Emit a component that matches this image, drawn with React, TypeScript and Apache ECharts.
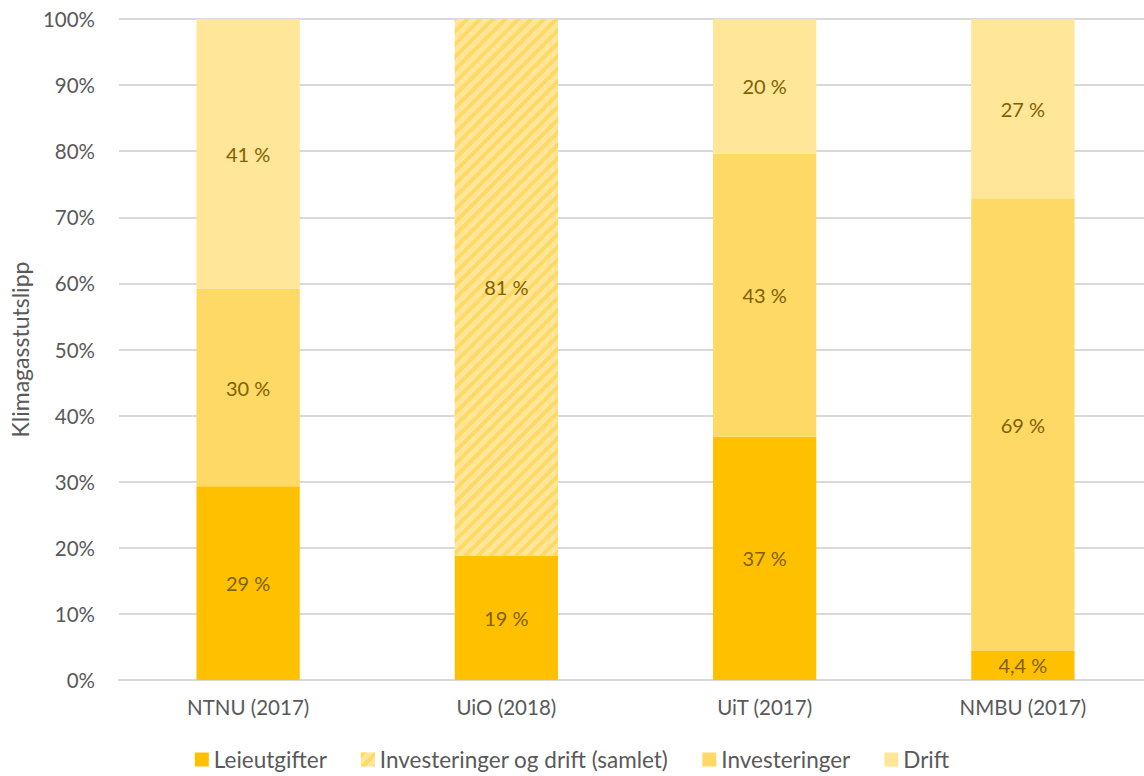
import React, { useEffect, useRef } from "react";
import * as echarts from "echarts";

const categories = ["NTNU (2017)", "UiO (2018)", "UiT (2017)", "NMBU (2017)"];
const leieutgifter = [29.3, 18.8, 36.8, 4.4];
const samlet = [null, 81.2, null, null];
const investeringer = [29.9, null, 42.8, 68.5];
const drift = [40.8, null, 20.4, 27.1];
const yTicks = [0, 10, 20, 30, 40, 50, 60, 70, 80, 90, 100];

const FONT = "Lato, 'Open Sans', sans-serif";
const LABEL_COLOR = "#7F6000";
const AXIS_COLOR = "#595959";

function fmt(v: number): string {
  if (v < 10) return v.toFixed(1).replace(".", ",") + " %";
  return Math.round(v) + " %";
}

export default function App() {
  const ref = useRef<HTMLDivElement>(null);
  useEffect(() => {
    if (!ref.current) return;
    const chart = echarts.init(ref.current, undefined, { renderer: "svg" });
    const label = {
      show: true,
      position: "inside",
      color: LABEL_COLOR,
      fontFamily: FONT,
      fontSize: 20,
      formatter: (p: any) => (p.value == null ? "" : fmt(p.value)),
    };
    chart.setOption({
      animation: false,
      textStyle: { fontFamily: FONT },
      grid: {
        left: 119,
        right: -8,
        top: 19,
        bottom: 96,
        containLabel: false,
        outerBoundsMode: "none",
      },
      legend: {
        bottom: 0,
        left: "center",
        itemWidth: 14,
        itemHeight: 14,
        itemGap: 34,
        icon: "rect",
        textStyle: { color: AXIS_COLOR, fontSize: 22.5, fontFamily: FONT },
        data: ["Leieutgifter", "Investeringer og drift (samlet)", "Investeringer", "Drift"],
      },
      xAxis: {
        type: "category",
        data: categories,
        axisTick: { show: false },
        axisLine: { lineStyle: { color: "#D9D9D9", width: 2 } },
        axisLabel: { color: AXIS_COLOR, fontSize: 20.5, fontFamily: FONT, margin: 16 },
      },
      yAxis: {
        type: "value",
        min: 0,
        max: 100,
        interval: 10,
        name: "Klimagasstutslipp",
        nameLocation: "middle",
        nameGap: 88,
        nameTextStyle: { color: AXIS_COLOR, fontSize: 23, fontFamily: FONT },
        axisLabel: {
          color: AXIS_COLOR,
          fontSize: 20.5,
          fontFamily: FONT,
          margin: 24,
          formatter: (v: number) => (yTicks.includes(v) ? v + "%" : ""),
        },
        splitLine: { lineStyle: { color: "#D9D9D9", width: 2 } },
      },
      series: [
        {
          name: "Leieutgifter",
          type: "bar",
          stack: "s",
          barWidth: "40%",
          data: leieutgifter,
          itemStyle: { color: "#FFC000" },
          label,
        },
        {
          name: "Investeringer og drift (samlet)",
          type: "bar",
          stack: "s",
          data: samlet,
          itemStyle: {
            color: "#FFE699",
            decal: {
              symbol: "rect",
              symbolSize: 1,
              color: "#FFD966",
              dashArrayX: [1, 0],
              dashArrayY: [4, 5],
              rotation: -Math.PI / 4,
            },
          },
          label,
        },
        {
          name: "Investeringer",
          type: "bar",
          stack: "s",
          data: investeringer,
          itemStyle: { color: "#FFD966" },
          label,
        },
        {
          name: "Drift",
          type: "bar",
          stack: "s",
          data: drift,
          itemStyle: { color: "#FFE699" },
          label,
        },
      ],
    });
    return () => chart.dispose();
  }, []);
  return (
    <div
      ref={ref}
      style={{ position: "absolute", left: 0, top: 0, width: 1144, height: 776, background: "#fff" }}
    />
  );
}
